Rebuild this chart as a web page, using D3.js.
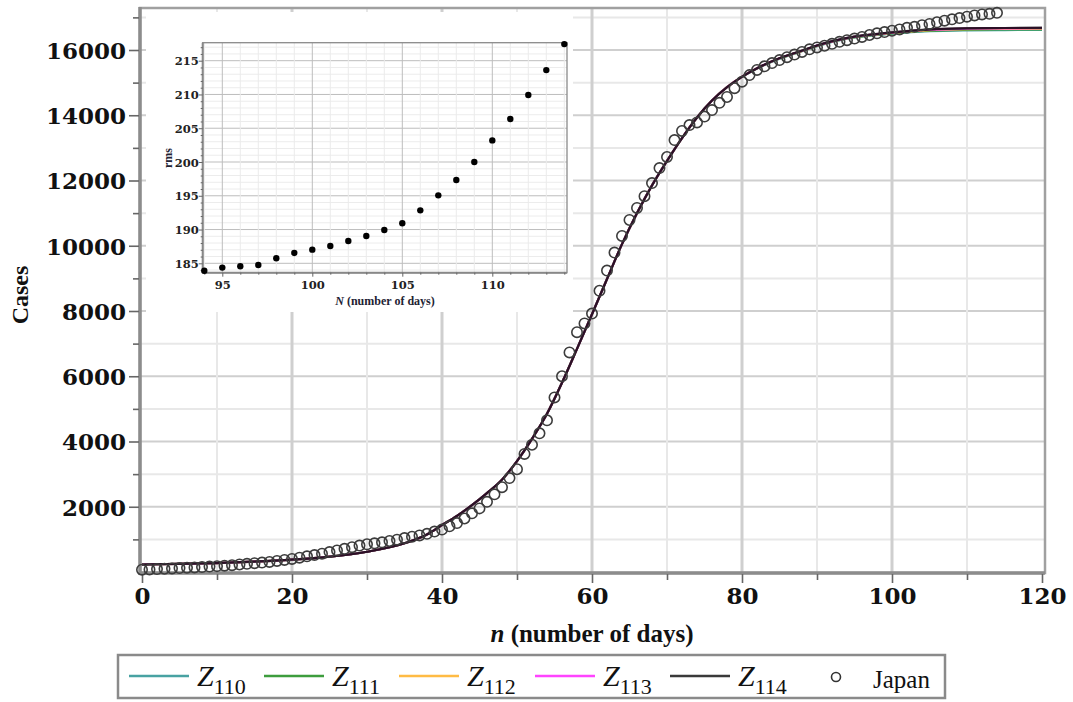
<!DOCTYPE html>
<html><head><meta charset="utf-8">
<script src="https://cdn.jsdelivr.net/npm/d3@7/dist/d3.min.js"></script>
<style>body{margin:0;background:#fff}svg{display:block}</style>
</head><body>
<svg id="c" width="1073" height="702"></svg>
<script>
// ---------------- DATA ----------------
const japanCases = [70,80,90,100,110,120,130,140,150,165,180,195,210,230,250,270,290,310,340,370,
400,440,480,520,560,610,660,710,760,810,850,880,910,950,990,1040,1080,1120,1170,1240,
1300,1400,1500,1640,1800,1950,2150,2380,2600,2880,3150,3620,3900,4250,4650,5350,6000,6730,7350,7620,
7920,8620,9240,9790,10300,10790,11160,11520,11920,12380,12720,13240,13520,13700,13780,13960,14160,14380,14560,14830,
15030,15230,15390,15500,15600,15690,15780,15860,15940,16020,16080,16130,16190,16250,16300,16350,16400,16460,16510,16550,
16590,16630,16680,16710,16760,16800,16850,16900,16940,16980,17020,17060,17090,17110,17140];

const curveDays = [0,5,10,15,20,25,30,35,38,40,42,44,46,48,50,52,54,56,58,60,62,64,66,68,70,72,74,76,78,80,82,85,88,90,94,100,105,110,115,120];
const z114 = [230,250,275,320,380,470,620,880,1150,1440,1720,2050,2420,2830,3400,4080,4850,5800,6840,7900,8980,10050,11000,11850,12600,13300,13930,14450,14860,15180,15440,15750,15980,16140,16370,16540,16630,16665,16675,16680];
const z113 = [230,250,275,320,380,470,620,880,1150,1440,1720,2050,2420,2830,3400,4080,4850,5800,6840,7900,8980,10050,11000,11850,12600,13300,13930,14450,14860,15180,15440,15750,15978,16137,16365,16532,16620,16652,16662,16666];
const z112 = [230,250,275,320,380,470,620,880,1150,1440,1720,2050,2420,2830,3400,4080,4850,5800,6840,7900,8980,10050,11000,11850,12600,13300,13930,14450,14860,15180,15438,15746,15974,16132,16360,16522,16606,16638,16648,16652];
const z111 = [230,250,275,320,380,470,620,880,1150,1440,1720,2050,2420,2830,3400,4080,4850,5800,6840,7900,8980,10050,11000,11850,12600,13300,13930,14450,14860,15178,15435,15740,15968,16125,16352,16510,16590,16620,16630,16634];
const z110 = [230,250,275,320,380,470,620,880,1150,1440,1720,2050,2420,2830,3400,4080,4850,5800,6840,7900,8980,10050,11000,11850,12600,13300,13930,14450,14858,15175,15430,15733,15960,16117,16345,16498,16575,16603,16612,16615];

const seriesNames = ["110","111","112","113","114"];
const seriesColors = ["#48a2a2","#3d9d3d","#ffbb44","#ff44ff","#3a3a3a"];
const xMajorTicks = [0,20,40,60,80,100,120];
const xMinorTicks = [10,30,50,70,90,110];
const yMajorTicks = [2000,4000,6000,8000,10000,12000,14000,16000];
const yMinorTicks = [1000,3000,5000,7000,9000,11000,13000,15000,17000];

const insetDays = [94,95,96,97,98,99,100,101,102,103,104,105,106,107,108,109,110,111,112,113,114];
const insetRms = [183.9,184.36,184.56,184.75,185.74,186.53,187.02,187.57,188.31,189.05,189.93,190.92,192.84,195.06,197.33,200.0,203.2,206.36,209.91,213.61,217.46];
const insetXTicks = [95,100,105,110];
const insetYTicks = [185,190,195,200,205,210,215];

// ---------------- CHART ----------------
const svg = d3.select("#c");
const serif = "'Liberation Serif','Times New Roman',serif";
const tickFont = "'DejaVu Serif',serif";

const x = d3.scaleLinear([0,120],[142,1042]);
const y = d3.scaleLinear([0,16000],[572,50]);
const L = 140, R = 1045, T = 8, B = 573;

// grid
const grid = svg.append("g");
const yGrid = d3.range(1000, 17001, 1000);
grid.selectAll(".hg").data(yGrid).join("line")
  .attr("x1",L).attr("x2",R).attr("y1",d=>y(d)).attr("y2",d=>y(d))
  .attr("stroke",d=>d%2000===0?"#cfcfcf":"#e8e8e8").attr("stroke-width",2);
grid.selectAll(".vg").data(xMinorTicks.concat(xMajorTicks.filter(d=>d>0&&d<120))).join("line")
  .attr("x1",d=>x(d)).attr("x2",d=>x(d)).attr("y1",T).attr("y2",B)
  .attr("stroke",d=>d%20===0?"#cfcfcf":"#e8e8e8").attr("stroke-width",d=>d%20===0?3:2);

// frame
svg.append("rect").attr("x",L).attr("y",T).attr("width",R-L).attr("height",B-T)
  .attr("fill","none").attr("stroke","#a0a0a0").attr("stroke-width",2.5);
svg.append("line").attr("x1",L).attr("x2",L).attr("y1",T-1).attr("y2",B+2).attr("stroke","#8c8c8c").attr("stroke-width",3.5);
svg.append("line").attr("x1",L-1).attr("x2",R).attr("y1",B).attr("y2",B).attr("stroke","#8c8c8c").attr("stroke-width",3.5);

// axes
const yAxMaj = d3.axisLeft(y).tickValues(yMajorTicks).tickSize(10).tickFormat(d3.format("d"));
const yAxMin = d3.axisLeft(y).tickValues(yMinorTicks).tickSize(6).tickFormat("");
const gy1 = svg.append("g").attr("transform",`translate(${L-1},0)`).call(yAxMaj);
const gy2 = svg.append("g").attr("transform",`translate(${L-1},0)`).call(yAxMin);
const xAxMaj = d3.axisBottom(x).tickValues(xMajorTicks).tickSize(9).tickFormat(d3.format("d"));
const xAxMin = d3.axisBottom(x).tickValues(xMinorTicks).tickSize(6).tickFormat("");
const gx1 = svg.append("g").attr("transform",`translate(0,${B+1})`).call(xAxMaj);
const gx2 = svg.append("g").attr("transform",`translate(0,${B+1})`).call(xAxMin);
[gy1,gy2,gx1,gx2].forEach(g=>{
  g.select(".domain").remove();
  g.selectAll(".tick line").attr("stroke","#666").attr("stroke-width",1.6);
  g.selectAll("text").attr("font-family",tickFont).attr("font-weight","bold").attr("font-size",23).attr("fill","#111");
});
gy1.selectAll("text").attr("x",-13).attr("dy","0.36em");
gx1.selectAll("text").attr("y",14);

// curves
const line = d3.line().curve(d3.curveMonotoneX);
const allSeries = [z110,z111,z112,z113,z114];
allSeries.forEach((vals,i)=>{
  svg.append("path")
    .attr("d", line(curveDays.map((d,j)=>[x(d), y(vals[j])])))
    .attr("fill","none").attr("stroke",seriesColors[i]).attr("stroke-width",2.2);
});
svg.append("path")
  .attr("d", line(curveDays.map((d,j)=>[x(d), y(z114[j])])))
  .attr("fill","none").attr("stroke","#2b0f26").attr("stroke-width",2);

// Japan data
svg.append("g").selectAll("circle").data(japanCases).join("circle")
  .attr("cx",(d,i)=>x(i)).attr("cy",d=>y(d)).attr("r",5.2)
  .attr("fill","none").attr("stroke","#3c3c3c").attr("stroke-width",1.6);

// axis labels
svg.append("text").attr("x",592).attr("y",642).attr("text-anchor","middle")
  .attr("font-family",serif).attr("font-weight","bold").attr("font-size",25).attr("fill","#111")
  .call(t=>{t.append("tspan").attr("font-style","italic").text("n");t.append("tspan").text(" (number of days)");});
svg.append("text").attr("transform","translate(28,295) rotate(-90)").attr("text-anchor","middle")
  .attr("font-family",serif).attr("font-weight","bold").attr("font-size",24).attr("fill","#111").text("Cases");

// ---------------- INSET ----------------
svg.append("rect").attr("x",146).attr("y",12).attr("width",427).attr("height",300).attr("fill","#fff");
const xi = d3.scaleLinear([94,114],[204.3,564.3]);
const yi = d3.scaleLinear([185,215],[263.3,60.7]);
const iL = 202.7, iR = 567, iT = 42.7, iB = 272.7;
const ig = svg.append("g");
ig.selectAll(".ihg").data(d3.range(184,218)).join("line")
  .attr("x1",iL).attr("x2",iR).attr("y1",d=>yi(d)).attr("y2",d=>yi(d))
  .attr("stroke",d=>d%5===0?"#bdbdbd":"#ececec").attr("stroke-width",1);
ig.selectAll(".ivg").data(d3.range(94,115)).join("line")
  .attr("x1",d=>xi(d)).attr("x2",d=>xi(d)).attr("y1",iT).attr("y2",iB)
  .attr("stroke",d=>d%5===0?"#bdbdbd":"#ececec").attr("stroke-width",1);
ig.append("rect").attr("x",iL).attr("y",iT).attr("width",iR-iL).attr("height",iB-iT)
  .attr("fill","none").attr("stroke","#8a8a8a").attr("stroke-width",1.3);
ig.append("line").attr("x1",iL).attr("x2",iL).attr("y1",iT).attr("y2",iB).attr("stroke","#888").attr("stroke-width",2);
ig.append("line").attr("x1",iL).attr("x2",iR).attr("y1",iB).attr("y2",iB).attr("stroke","#888").attr("stroke-width",2);

const iyAx = d3.axisLeft(yi).tickValues(insetYTicks).tickSize(4).tickFormat(d3.format("d"));
const iyMin = d3.axisLeft(yi).tickValues(d3.range(184,218).filter(d=>d%5!==0)).tickSize(2).tickFormat("");
const ixAx = d3.axisBottom(xi).tickValues(insetXTicks).tickSize(4).tickFormat(d3.format("d"));
const ixMin = d3.axisBottom(xi).tickValues(insetDays.filter(d=>d%5!==0)).tickSize(2).tickFormat("");
const g1 = ig.append("g").attr("transform",`translate(${iL},0)`).call(iyAx);
const g2 = ig.append("g").attr("transform",`translate(${iL},0)`).call(iyMin);
const g3 = ig.append("g").attr("transform",`translate(0,${iB})`).call(ixAx);
const g4 = ig.append("g").attr("transform",`translate(0,${iB})`).call(ixMin);
[g1,g2,g3,g4].forEach(g=>{
  g.select(".domain").remove();
  g.selectAll(".tick line").attr("stroke","#666");
  g.selectAll("text").attr("font-family",tickFont).attr("font-weight","bold").attr("font-size",11.5).attr("fill","#222");
});
g1.selectAll("text").attr("x",-4).attr("dy","0.36em");
g3.selectAll("text").attr("y",8);

ig.selectAll(".dot").data(insetRms).join("circle")
  .attr("cx",(d,i)=>xi(insetDays[i])).attr("cy",d=>yi(d)).attr("r",3.2).attr("fill","#000");

ig.append("text").attr("x",385).attr("y",305).attr("text-anchor","middle")
  .attr("font-family",serif).attr("font-weight","bold").attr("font-size",12).attr("fill","#223")
  .call(t=>{t.append("tspan").attr("font-style","italic").text("N");t.append("tspan").text(" (number of days)");});
ig.append("text").attr("transform","translate(172,158) rotate(-90)").attr("text-anchor","middle")
  .attr("font-family",serif).attr("font-weight","bold").attr("font-size",12).attr("fill","#223").text("rms");

// ---------------- LEGEND ----------------
const lg = svg.append("g");
lg.append("rect").attr("x",118).attr("y",655).attr("width",827).attr("height",43)
  .attr("fill","#fff").attr("stroke","#8a8a8a").attr("stroke-width",2.5);
const legX = [129,264,399,535,670];
seriesNames.forEach((nm,i)=>{
  const x0 = legX[i];
  lg.append("line").attr("x1",x0).attr("x2",x0+60).attr("y1",676).attr("y2",676)
    .attr("stroke",seriesColors[i]).attr("stroke-width",2.5);
  const t = lg.append("text").attr("x",x0+68).attr("y",686).attr("font-family",serif).attr("fill","#111");
  t.append("tspan").attr("font-style","italic").attr("font-size",30).text("Z");
  t.append("tspan").attr("font-size",22).attr("dy",8).text(nm);
});
lg.append("circle").attr("cx",836).attr("cy",677).attr("r",4.5).attr("fill","none").attr("stroke","#333").attr("stroke-width",1.6);
lg.append("text").attr("x",873).attr("y",688).attr("font-family",serif).attr("font-size",25).attr("fill","#111").text("Japan");
</script>
</body></html>
